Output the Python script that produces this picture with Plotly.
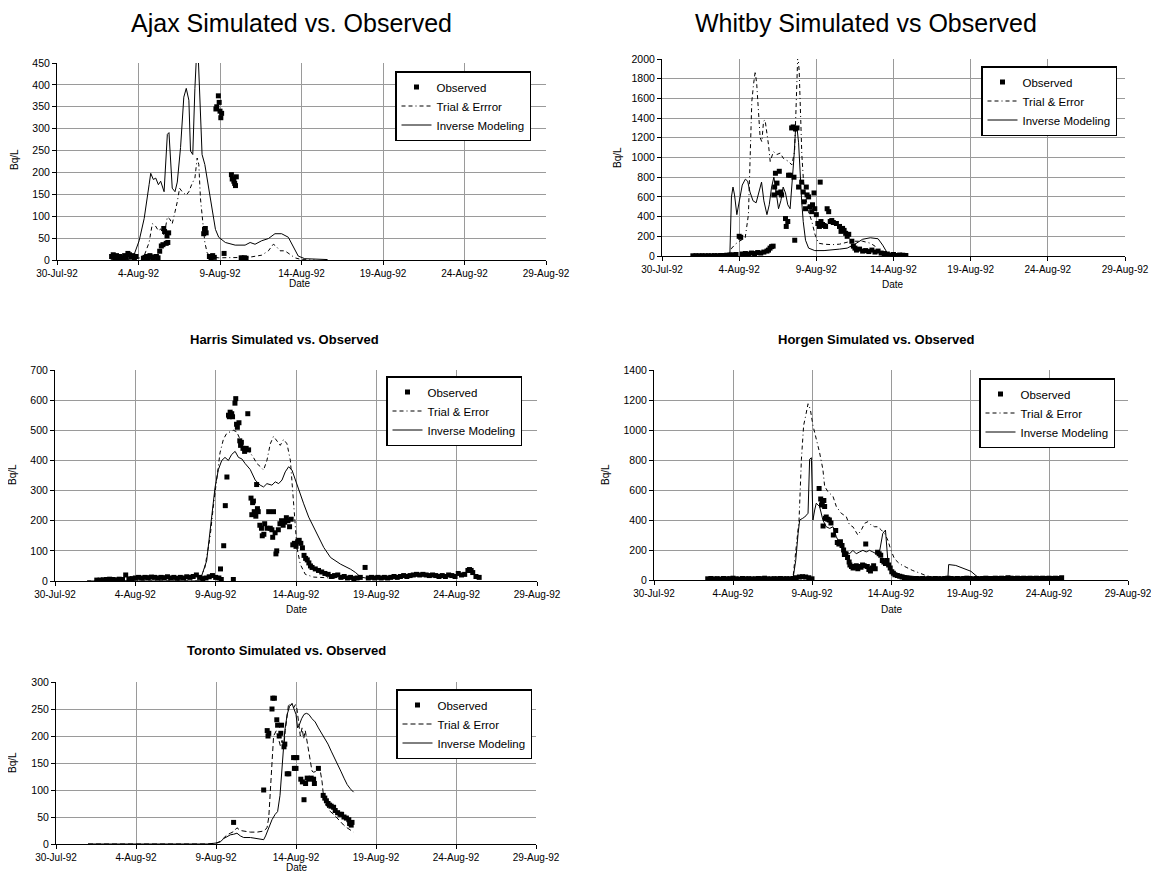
import pandas as pd
import plotly.graph_objects as go

BASE = pd.Timestamp("1992-07-30")
TICK_DATES = ["1992-07-30", "1992-08-04", "1992-08-09", "1992-08-14",
              "1992-08-19", "1992-08-24", "1992-08-29"]
TICK_LABELS = ["30-Jul-92", "4-Aug-92", "9-Aug-92", "14-Aug-92",
               "19-Aug-92", "24-Aug-92", "29-Aug-92"]

# ---------------- Ajax (days after 30-Jul-92) ----------------
AJAX_OBS_DAYS = [3.35, 3.45, 3.55, 3.65, 3.75, 3.85, 3.95, 4.05, 4.15, 4.25, 4.35, 4.45, 4.55, 4.65, 4.75, 4.85,
                 5.3, 5.4, 5.5, 5.6, 5.7, 5.8, 5.9, 6.0, 6.1, 6.2, 6.3, 6.4, 6.5, 6.55, 6.6, 6.7, 6.75, 6.8, 6.85,
                 9.0, 9.05, 9.1, 9.15, 9.35, 9.45, 9.55, 9.65, 9.75, 9.8, 9.9, 9.95, 10.0, 10.05, 10.1, 10.25,
                 10.7, 10.75, 10.85, 10.9, 10.95, 11.0, 11.3, 11.4, 11.5, 11.6]
AJAX_OBS_VALS = [8, 12, 5, 10, 3, 8, 5, 2, 10, 6, 15, 12, 8, 10, 5, 8,
                 4, 6, 8, 5, 10, 7, 4, 6, 8, 5, 20, 32, 35, 72, 65, 38, 55, 40, 62,
                 60, 70, 72, 62, 8, 5, 10, 6, 345, 350, 375, 360, 340, 325, 335, 15,
                 195, 185, 180, 175, 170, 190, 5, 4, 5, 4]
AJAX_TE_DAYS = [3.3, 4.0, 4.8, 5.3, 5.45, 5.65, 5.85, 6.02, 6.22, 6.36, 6.57, 6.77, 6.91, 7.07, 7.24, 7.38,
                7.52, 7.68, 7.93, 8.09, 8.29, 8.46, 8.6, 8.7, 8.8, 8.94, 9.07, 9.21, 9.41, 9.92, 10.73,
                11.75, 12.56, 12.97, 13.27, 13.43, 13.68, 13.98, 14.29, 14.59, 15.0, 15.8]
AJAX_TE_VALS = [2, 3, 4, 5, 20, 40, 83, 79, 67, 71, 56, 98, 94, 83, 110, 133,
                164, 156, 148, 156, 175, 187, 233, 218, 141, 87, 40, 17, 7, 5, 6,
                6, 11, 21, 36, 32, 21, 21, 13, 5, 1, 0]
AJAX_INV_DAYS = [3.3, 4.63, 5.04, 5.35, 5.65, 5.75, 5.91, 6.06, 6.22, 6.36, 6.57, 6.67, 6.77, 6.87, 6.97,
                 7.07, 7.24, 7.38, 7.58, 7.78, 7.93, 8.09, 8.19, 8.33, 8.46, 8.56, 8.66, 8.76, 8.9, 9.07,
                 9.31, 9.51, 9.72, 9.92, 10.33, 10.93, 11.54, 11.85, 12.15, 12.56, 12.97, 13.37, 13.78,
                 14.19, 14.59, 14.8, 15.2, 15.81, 16.6]
AJAX_INV_VALS = [0, 2, 44, 95, 172, 198, 184, 187, 172, 180, 156, 210, 287, 291, 210,
                 164, 156, 178, 257, 372, 392, 365, 249, 241, 392, 470, 470, 384, 241, 218,
                 164, 117, 70, 52, 40, 34, 34, 40, 36, 44, 49, 60, 60,
                 52, 25, 9, 3, 2, 1]

# ---------------- Whitby ----------------
WHITBY_OBS_DAYS = [2.0, 2.2, 2.4, 2.6, 2.8, 3.0, 3.2, 3.4, 3.6, 3.8, 4.0, 4.2, 4.4, 4.6, 4.8, 5.0, 5.1, 5.2, 5.4, 5.6,
                   5.8, 6.0, 6.2, 6.4, 6.6, 6.8, 6.9, 7.0, 7.1, 7.2,
                   7.25, 7.3, 7.35, 7.45, 7.5, 7.6, 7.7, 7.75, 8.0, 8.05, 8.15, 8.2, 8.3, 8.4, 8.5, 8.55, 8.6,
                   8.65, 8.75, 8.85,
                   9.05, 9.15, 9.2, 9.3, 9.35, 9.4, 9.5, 9.6, 9.7, 9.75, 9.85, 9.9, 10.0, 10.1, 10.2, 10.25,
                   10.3, 10.4, 10.5, 10.6,
                   10.7, 10.8, 10.9, 11.0, 11.1, 11.3, 11.5, 11.6, 11.7, 11.8, 11.9, 12.0, 12.1, 12.3, 12.4,
                   12.5, 12.6, 12.8, 13.0, 13.2,
                   13.4, 13.6, 13.8, 14.0, 14.2, 14.4, 14.6, 14.8, 15.0, 15.2, 15.4, 15.6, 15.8]
WHITBY_OBS_VALS = [2, 3, 2, 3, 2, 3, 2, 4, 3, 5, 5, 8, 10, 12, 15, 200, 190, 20, 25, 20,
                   30, 25, 35, 30, 40, 50, 60, 80, 95, 100,
                   620, 700, 840, 740, 640, 860, 650, 620, 380, 300, 350, 820, 820, 1300, 1310, 800, 160,
                   1290, 1300, 700,
                   750, 650, 550, 480, 700, 620, 600, 500, 450, 520, 640, 480, 420, 330, 300, 750,
                   350, 320, 310, 300,
                   480, 450, 350, 360, 340, 330, 300, 250, 280, 260, 230, 200, 220, 150, 100,
                   80, 60, 70, 50, 55,
                   45, 60, 40, 50, 30, 25, 20, 10, 15, 5, 10, 8, 5]
WHITBY_TE_DAYS = [2.0, 4.3, 4.52, 4.75, 4.96, 5.2, 5.39, 5.6, 5.71, 5.82, 5.93, 6.04, 6.14, 6.25, 6.36, 6.47,
                  6.58, 6.68, 6.79, 6.9, 7.01, 7.22, 7.44, 7.66, 7.87, 8.2, 8.41, 8.59, 8.67, 8.76, 8.8,
                  8.89, 8.97, 9.06, 9.17, 9.28, 9.49, 9.71, 9.92, 10.14, 10.5, 11.0, 11.5, 12.0, 12.5, 13.0,
                  13.5, 13.8, 14.0, 14.3, 14.6, 15.0]
WHITBY_TE_VALS = [0, 0, 80, 120, 145, 170, 185, 420, 925, 1570, 1740, 1875, 1740, 1500, 1200, 1160,
                  1370, 1380, 1265, 1130, 960, 1060, 1030, 1045, 990, 960, 925, 1060, 1430, 1840, 2050,
                  1875, 1370, 1030, 755, 620, 450, 350, 215, 130, 120, 115, 120, 140, 150, 150,
                  130, 100, 60, 20, 5, 0]
WHITBY_INV_DAYS = [2.0, 4.3, 4.4, 4.5, 4.6, 4.7, 4.85, 5.0, 5.2, 5.4, 5.55, 5.7, 5.9, 6.1, 6.3, 6.45, 6.6,
                   6.8, 6.95, 7.1, 7.25, 7.4, 7.55, 7.7, 7.85, 8.0, 8.15, 8.3, 8.45, 8.55, 8.65, 8.75, 8.85,
                   8.95, 9.05, 9.15, 9.3, 9.5, 9.9, 10.5, 11.0, 11.5, 12.0, 12.5, 13.0, 13.5, 14.0, 14.3,
                   14.6, 14.9, 15.3]
WHITBY_INV_VALS = [0, 0, 30, 600, 700, 620, 420, 560, 720, 780, 760, 650, 560, 540, 650, 750, 560,
                   420, 520, 700, 800, 620, 480, 560, 700, 640, 520, 480, 780, 1000, 1280, 1300, 1150,
                   800, 560, 350, 160, 80, 55, 55, 60, 70, 80, 120, 170, 185, 175, 110,
                   30, 5, 0]

# ---------------- Harris ----------------
HARRIS_OBS_DAYS = [2.6, 2.8, 3.0, 3.2, 3.4, 3.6, 3.8, 4.0, 4.2, 4.4, 4.6, 4.8, 5.0, 5.2, 5.4, 5.6, 5.8, 6.0,
                   6.2, 6.4, 6.6, 6.8, 7.0, 7.2, 7.4, 7.6, 7.8, 8.0, 8.2, 8.4, 8.6, 8.8, 9.0, 9.2, 9.4, 9.6,
                   9.8, 10.0,
                   10.2, 10.3, 10.35, 10.5, 10.6, 10.7, 10.8, 10.85, 10.9, 11.0, 11.05, 11.1, 11.2, 11.25,
                   11.3, 11.35, 11.45, 11.5, 11.55, 11.6,
                   11.7, 11.8, 11.9, 12.0, 12.05, 12.2, 12.25, 12.3, 12.35, 12.4, 12.5, 12.55, 12.6, 12.65,
                   12.75, 12.85, 12.9, 13.0, 13.05, 13.2,
                   13.3, 13.4, 13.5, 13.55, 13.6, 13.7, 13.75, 13.8, 13.9, 14.0, 14.1, 14.2, 14.3, 14.4,
                   14.5, 14.6, 14.7, 14.8, 14.9, 15.0,
                   15.1, 15.2, 15.3, 15.4, 15.5, 15.6, 15.7, 15.8, 15.9, 16.0, 16.2, 16.4, 16.6, 16.8, 17.0,
                   17.2, 17.4, 17.6, 17.8, 18.0,
                   18.2, 18.4, 18.6, 18.8, 19.0, 19.3, 19.5, 19.7, 19.9, 20.1, 20.3, 20.5, 20.7, 20.9, 21.1,
                   21.3, 21.5, 21.7, 21.9, 22.1,
                   22.3, 22.5, 22.7, 22.9, 23.1, 23.3, 23.5, 23.7, 23.9, 24.1, 24.3, 24.5, 24.7, 24.9, 25.1,
                   25.3, 25.5, 25.7, 25.8, 25.9, 26.0, 26.2, 26.4]
HARRIS_OBS_VALS = [3, 3, 4, 5, 6, 5, 4, 6, 5, 20, 7, 8, 10, 12, 10, 12, 11, 13,
                   12, 10, 12, 11, 14, 10, 12, 9, 12, 10, 14, 12, 15, 20, 12, 8, 10, 14,
                   18, 12,
                   10, 40, 5, 117, 250, 345, 550, 545, 560, 555, 545, 5, 590, 605,
                   520, 510, 525, 465, 450, 460,
                   440, 430, 440, 555, 435, 275, 220, 260, 265, 230, 215, 320, 240, 230,
                   185, 175, 150, 155, 190, 175,
                   230, 175, 170, 145, 230, 160, 90, 100, 170, 190, 200, 185, 195, 210,
                   200, 180, 205, 120, 125, 115,
                   130, 135, 125, 110, 85, 75, 70, 60, 50, 45, 40, 35, 30, 25, 22,
                   15, 18, 20, 12, 15,
                   10, 12, 8, 10, 12, 45, 10, 12, 10, 12, 10, 12, 10, 12, 15,
                   12, 15, 18, 15, 18,
                   20, 22, 20, 22, 20, 18, 20, 18, 15, 18, 15, 20, 18, 15, 25,
                   20, 22, 35, 38, 35, 28, 15, 12]
HARRIS_TE_DAYS = [2.0, 9.0, 9.33, 9.65, 9.85, 10.06, 10.27, 10.48, 10.69, 10.9, 11.1, 11.31, 11.52, 11.73,
                  11.94, 12.15, 12.35, 12.56, 12.77, 12.98, 13.19, 13.4, 13.6, 13.81, 14.02, 14.23, 14.44,
                  14.65, 14.75, 14.85, 14.96, 15.06, 15.27, 15.58, 16.1, 17.0, 18.0, 19.0]
HARRIS_TE_VALS = [0, 0, 45, 145, 245, 345, 425, 470, 490, 495, 500, 495, 470, 445,
                  435, 425, 410, 390, 380, 368, 400, 455, 480, 465, 450, 470, 455,
                  400, 325, 255, 180, 110, 55, 22, 13, 10, 8, 6]
HARRIS_INV_DAYS = [2.0, 9.02, 9.44, 9.75, 9.96, 10.17, 10.38, 10.58, 10.79, 11.0, 11.21, 11.42, 11.63,
                   11.83, 12.15, 12.46, 12.77, 12.98, 13.19, 13.5, 13.71, 13.92, 14.13, 14.33, 14.54, 14.75,
                   14.96, 15.17, 15.48, 15.79, 16.0, 16.31, 16.73, 17.15, 17.77, 18.4, 18.71, 19.02, 19.44]
HARRIS_INV_VALS = [0, 0, 67, 200, 310, 370, 400, 410, 400, 420, 430, 410, 405,
                   390, 370, 335, 318, 312, 323, 318, 329, 323, 335, 362, 379, 368,
                   335, 300, 256, 212, 190, 156, 111, 78, 56, 39, 28, 13, 9]

# ---------------- Horgen ----------------
HORGEN_OBS_DAYS = [3.4, 3.6, 3.8, 4.0, 4.2, 4.4, 4.6, 4.8, 5.0, 5.2, 5.4, 5.6, 5.8, 6.0, 6.2, 6.4, 6.6, 6.8,
                   7.0, 7.2, 7.4, 7.6, 7.8, 8.0, 8.2, 8.4, 8.6, 8.8, 9.0, 9.2, 9.4, 9.6, 9.8, 10.0,
                   10.45, 10.55, 10.6, 10.65, 10.7, 10.75, 10.8, 10.85, 10.9, 11.0, 11.1, 11.2, 11.35, 11.5,
                   11.6, 11.7, 11.8, 11.9, 12.0, 12.05,
                   12.15, 12.25, 12.35, 12.4, 12.5, 12.6, 12.7, 12.8, 12.9, 13.0, 13.1, 13.2, 13.3, 13.4,
                   13.5, 13.6, 13.7, 13.8, 13.9, 14.0,
                   14.15, 14.25, 14.35, 14.45, 14.55, 14.65, 14.75, 14.85, 14.95, 15.05, 15.15, 15.25, 15.4,
                   15.55, 15.7, 15.85, 16.0,
                   16.2, 16.4, 16.6, 16.8, 17.0, 17.2, 17.4, 17.6, 17.8, 18.0, 18.2, 18.4, 18.6, 18.8, 19.0,
                   19.2, 19.4, 19.6, 19.8, 20.0, 20.2, 20.4, 20.6, 20.8, 21.0, 21.2, 21.4, 21.6, 21.8, 22.0,
                   22.2, 22.4, 22.6, 22.8, 23.0, 23.2, 23.4, 23.6, 23.8, 24.0, 24.2, 24.4, 24.6, 24.8, 25.0,
                   25.2, 25.4, 25.6, 25.8]
HORGEN_OBS_VALS = [8, 10, 7, 9, 6, 10, 8, 9, 12, 8, 6, 10, 8, 9, 7, 8, 10, 9,
                   12, 8, 7, 9, 8, 10, 8, 9, 8, 10, 15, 20, 22, 20, 15, 8,
                   610, 540, 500, 520, 360, 530, 490, 410, 420, 405, 400, 380, 300, 330,
                   250, 240, 255, 230, 200, 170,
                   175, 150, 120, 100, 90, 80, 85, 95, 75, 90, 85, 100, 95, 240,
                   90, 70, 60, 80, 95, 75,
                   185, 175, 165, 130, 120, 110, 130, 100, 80, 55, 45, 35, 30,
                   25, 20, 15, 12,
                   10, 8, 10, 8, 10, 8, 9, 8, 10, 9, 8, 10, 12, 10, 8,
                   10, 8, 10, 12, 10, 8, 10, 9, 10, 12, 10, 10, 12, 10, 12,
                   10, 15, 12, 10, 12, 10, 12, 10, 12, 10, 12, 10, 12, 10, 12,
                   10, 12, 10, 15]
HORGEN_TE_DAYS = [3.3, 8.6, 8.8, 9.01, 9.18, 9.33, 9.47, 9.6, 9.75, 9.89, 10.06, 10.27, 10.48, 10.69, 10.8,
                  11.0, 11.33, 11.54, 11.85, 12.17, 12.38, 12.59, 12.9, 13.12, 13.33, 13.54, 13.75, 13.96,
                  14.17, 14.39, 14.6, 14.8, 15.0, 15.22, 15.54, 15.96, 16.38, 16.8, 17.22, 17.64, 18.06,
                  19.0, 20.0, 21.0]
HORGEN_TE_VALS = [0, 0, 18, 220, 400, 805, 1030, 1095, 1175, 1140, 1030, 940, 850, 737, 625,
                  590, 557, 490, 445, 422, 366, 355, 300, 333, 378, 389, 366, 355,
                  355, 333, 310, 265, 198, 141, 108, 85, 63, 47, 29, 18, 13,
                  8, 5, 3]
HORGEN_INV_DAYS = [3.3, 8.6, 8.8, 8.97, 9.12, 9.22, 9.39, 9.54, 9.75, 9.85, 9.96, 10.06, 10.17, 10.27, 10.48,
                   10.69, 10.9, 11.12, 11.33, 11.54, 11.75, 11.96, 12.17, 12.38, 12.59, 12.8, 13.01, 13.22,
                   13.43, 13.64, 13.85, 14.06, 14.27, 14.48, 14.65, 14.8, 15.0, 15.33, 15.96, 16.8, 17.43,
                   18.6, 18.65, 19.1, 19.75, 20.06, 20.38, 20.6, 21.0]
HORGEN_INV_VALS = [0, 0, 10, 130, 310, 400, 410, 420, 445, 805, 815, 400, 467, 512, 490,
                   400, 355, 344, 355, 288, 243, 220, 187, 175, 198, 175, 187, 198,
                   187, 198, 187, 175, 187, 310, 333, 130, 63, 40, 29, 18, 13,
                   13, 103, 97, 74, 58, 29, 13, 7]

# ---------------- Toronto ----------------
TORONTO_OBS_DAYS = [11.1, 12.98, 13.2, 13.25, 13.3, 13.5, 13.55, 13.65, 13.8, 13.85, 13.95, 14.05, 14.1, 14.25,
                    14.3, 14.45, 14.55, 14.85, 14.95, 15.05, 14.9, 15.0, 15.3, 15.4, 15.5, 15.6, 15.7, 15.8,
                    15.95, 16.1, 16.15, 16.4, 16.7, 16.8, 16.9, 17.0, 17.1, 17.2, 17.35, 17.45, 17.6, 17.75,
                    17.85, 18.0, 18.15, 18.3, 18.35, 18.45, 18.5]
TORONTO_OBS_VALS = [40, 100, 210, 200, 205, 250, 270, 270, 230, 220, 200, 205, 220, 180,
                    185, 130, 130, 160, 160, 160, 140, 140, 120, 115, 82, 112, 122, 120,
                    122, 120, 112, 140, 90, 85, 80, 75, 72, 70, 68, 62, 58, 55,
                    55, 50, 48, 45, 38, 35, 40]
TORONTO_TE_DAYS = [2.0, 9.5, 10.06, 10.27, 10.48, 10.69, 10.9, 11.1, 11.31, 11.52, 12.15, 12.56, 12.98, 13.19,
                   13.3, 13.4, 13.5, 13.6, 13.77, 13.92, 14.02, 14.13, 14.23, 14.33, 14.44, 14.54, 14.65,
                   14.75, 14.85, 14.96, 15.06, 15.17, 15.27, 15.38, 15.48, 15.58, 15.69, 15.8, 15.9, 16.0,
                   16.1, 16.31, 16.42, 16.52, 16.63, 16.73, 16.83, 16.94, 17.15, 17.35, 17.56, 17.77, 17.98,
                   18.19, 18.4, 18.6]
TORONTO_TE_VALS = [0, 0, 2, 5, 11, 17, 20, 23, 30, 25, 22, 22, 24, 30,
                   50, 100, 165, 200, 210, 195, 182, 192, 178, 210, 240, 260, 256,
                   260, 252, 258, 250, 225, 200, 215, 195, 210, 190, 175, 150, 135,
                   133, 135, 142, 135, 115, 85, 75, 70, 60, 55, 48, 40, 35,
                   30, 26, 22]
TORONTO_INV_DAYS = [2.0, 9.5, 10.06, 10.27, 10.48, 10.69, 10.9, 11.1, 11.31, 11.52, 11.73, 12.15, 12.56, 12.77,
                    12.98, 13.1, 13.3, 13.5, 13.7, 13.85, 14.0, 14.15, 14.3, 14.45, 14.6, 14.75, 14.9, 15.0,
                    15.1, 15.2, 15.35, 15.5, 15.65, 15.8, 16.0, 16.2, 16.4, 16.6, 16.8, 17.0, 17.2, 17.4,
                    17.6, 17.8, 18.0, 18.2, 18.4, 18.6]
TORONTO_INV_VALS = [0, 0, 2, 4, 10, 14, 17, 18, 20, 15, 12, 12, 10, 8,
                    8, 15, 30, 45, 55, 60, 90, 150, 210, 240, 255, 260, 250, 240,
                    215, 220, 232, 240, 242, 240, 232, 226, 215, 205, 195, 185, 172, 160,
                    150, 135, 122, 110, 102, 96]

FONT = "Liberation Sans, Arial, sans-serif"
OFF = 8                       # the page places the figure 8 px from the window's corner
W, H = 1159 - OFF, 876 - OFF  # figure size so it fills the window exactly
DASH_A = "4px,3px,4px,3px,1px,3px"
DASH_B = "5px,3px"


def to_dates(days):
    return [BASE + pd.Timedelta(days=d) for d in days]


def px_x(p):
    return (p - OFF) / W


def px_y(p):
    return 1 - (p - OFF) / H


PANELS = [
    dict(n="", title="Ajax Simulated vs. Observed", big=True, tx=291, ty=23,
         box=(57, 546, 63, 260), ymax=450, dtick=50, te_name="Trial & Errror", dash=DASH_A,
         leg=(395, 71), ylab=(14, 160), xlab=(300, 283),
         data=(AJAX_OBS_DAYS, AJAX_OBS_VALS, AJAX_TE_DAYS, AJAX_TE_VALS, AJAX_INV_DAYS, AJAX_INV_VALS)),
    dict(n="2", title="Whitby Simulated vs Observed", big=True, tx=866, ty=23,
         box=(662, 1125, 59, 256), ymax=2000, dtick=200, te_name="Trial & Error", dash=DASH_A,
         leg=(981, 66), ylab=(618, 158), xlab=(893, 284),
         data=(WHITBY_OBS_DAYS, WHITBY_OBS_VALS, WHITBY_TE_DAYS, WHITBY_TE_VALS, WHITBY_INV_DAYS, WHITBY_INV_VALS)),
    dict(n="3", title="Harris Simulated vs. Observed", big=False, tx=284, ty=339,
         box=(55, 537, 370, 581), ymax=700, dtick=100, te_name="Trial & Error", dash=DASH_A,
         leg=(386, 376), ylab=(12, 475), xlab=(297, 609),
         data=(HARRIS_OBS_DAYS, HARRIS_OBS_VALS, HARRIS_TE_DAYS, HARRIS_TE_VALS, HARRIS_INV_DAYS, HARRIS_INV_VALS)),
    dict(n="4", title="Horgen Simulated vs. Observed", big=False, tx=876, ty=339,
         box=(654, 1128, 370, 580), ymax=1400, dtick=200, te_name="Trial & Error", dash=DASH_A,
         leg=(979, 378), ylab=(605, 475), xlab=(892, 609),
         data=(HORGEN_OBS_DAYS, HORGEN_OBS_VALS, HORGEN_TE_DAYS, HORGEN_TE_VALS, HORGEN_INV_DAYS, HORGEN_INV_VALS)),
    dict(n="5", title="Toronto Simulated vs. Observed", big=False, tx=286, ty=650,
         box=(56, 536, 682, 844), ymax=300, dtick=50, te_name="Trial & Error", dash=DASH_B,
         leg=(396, 689), ylab=(12, 763), xlab=(297, 867),
         data=(TORONTO_OBS_DAYS, TORONTO_OBS_VALS, TORONTO_TE_DAYS, TORONTO_TE_VALS, TORONTO_INV_DAYS, TORONTO_INV_VALS)),
]

fig = go.Figure()
annotations = []
layout = dict(
    width=W, height=H, margin=dict(l=0, r=0, t=0, b=0, pad=0, autoexpand=False),
    paper_bgcolor="white", plot_bgcolor="white",
    font=dict(family=FONT, color="black"),
)

for p in PANELS:
    n = p["n"]
    xa, ya = "x" + n, "y" + n
    leg = "legend" + n
    od, ov, td, tv, idd, iv = p["data"]
    fig.add_trace(go.Scatter(x=to_dates(od), y=ov, mode="markers", name="Observed",
                             marker=dict(symbol="square", size=5, color="black"),
                             xaxis=xa, yaxis=ya, legend=leg, cliponaxis=True))
    fig.add_trace(go.Scatter(x=to_dates(td), y=tv, mode="lines", name=p["te_name"],
                             line=dict(color="black", width=1, dash=p["dash"]),
                             xaxis=xa, yaxis=ya, legend=leg))
    fig.add_trace(go.Scatter(x=to_dates(idd), y=iv, mode="lines", name="Inverse Modeling",
                             line=dict(color="black", width=1),
                             xaxis=xa, yaxis=ya, legend=leg))
    x0, x1, y0, y1 = p["box"]
    layout["xaxis" + n] = dict(
        domain=[px_x(x0), px_x(x1)], anchor=ya, type="date", automargin=False,
        range=[TICK_DATES[0], TICK_DATES[-1]],
        tickmode="array", tickvals=TICK_DATES, ticktext=TICK_LABELS,
        showgrid=True, gridcolor="#9a9a9a", gridwidth=1,
        showline=True, linecolor="black", linewidth=1,
        ticks="outside", ticklen=4, tickcolor="black",
        tickfont=dict(size=10, family=FONT), zeroline=False, fixedrange=True,
    )
    layout["yaxis" + n] = dict(
        domain=[px_y(y1), px_y(y0)], anchor=xa, automargin=False,
        range=[0, p["ymax"]], dtick=p["dtick"], tick0=0,
        showgrid=True, gridcolor="#9a9a9a", gridwidth=1,
        showline=True, linecolor="black", linewidth=1,
        ticks="outside", ticklen=4, tickcolor="black",
        tickfont=dict(size=10.5, family=FONT), zeroline=False, fixedrange=True,
    )
    lx, ly = p["leg"]
    layout[leg] = dict(
        x=px_x(lx), y=px_y(ly), xanchor="left", yanchor="top",
        bgcolor="white", bordercolor="black", borderwidth=1.5,
        font=dict(size=11.5, family=FONT), tracegroupgap=0,
        itemwidth=30,
    )
    if p["big"]:
        tfont = dict(size=25, family=FONT)
        ttext = p["title"]
    else:
        tfont = dict(size=13, family=FONT)
        ttext = "<b>" + p["title"] + "</b>"
    annotations.append(dict(text=ttext, x=px_x(p["tx"]), y=px_y(p["ty"]), xref="paper", yref="paper",
                            xanchor="center", yanchor="middle", showarrow=False, font=tfont))
    annotations.append(dict(text="Bq/L", x=px_x(p["ylab"][0]), y=px_y(p["ylab"][1]), xref="paper",
                            yref="paper", xanchor="center", yanchor="middle", showarrow=False,
                            textangle=-90, font=dict(size=10, family=FONT)))
    annotations.append(dict(text="Date", x=px_x(p["xlab"][0]), y=px_y(p["xlab"][1]), xref="paper",
                            yref="paper", xanchor="center", yanchor="middle", showarrow=False,
                            font=dict(size=10, family=FONT)))

layout["annotations"] = annotations
fig.update_layout(**layout)
fig.write_html("out.html")
